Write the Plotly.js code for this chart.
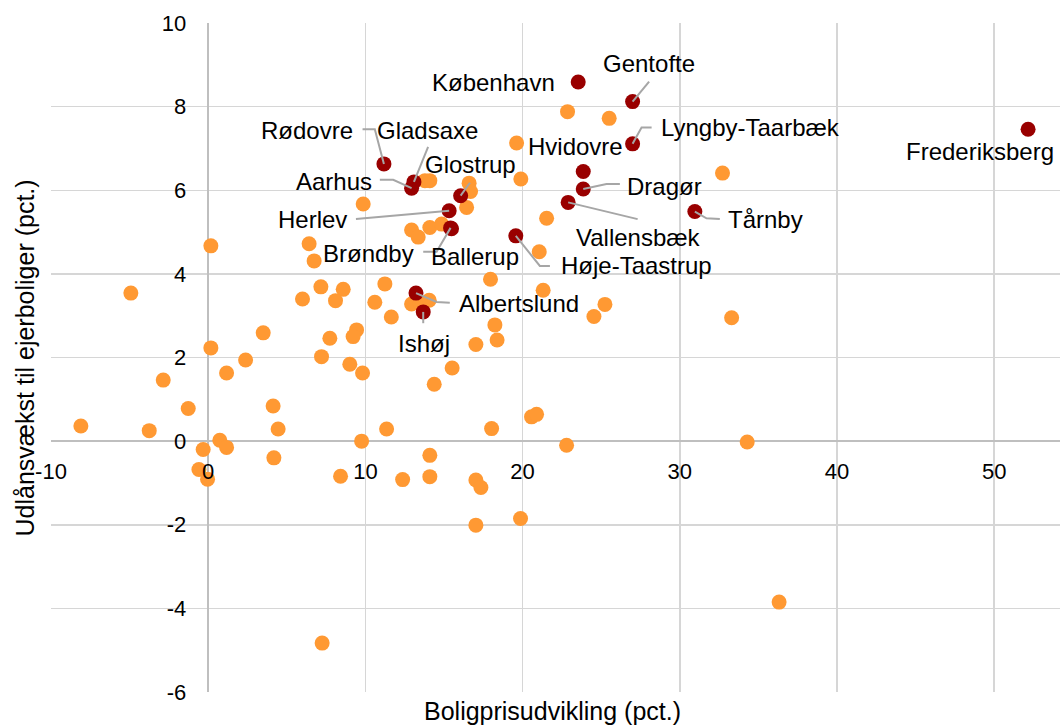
<!DOCTYPE html>
<html>
<head>
<meta charset="utf-8">
<script src="https://cdn.plot.ly/plotly-3.0.1.min.js"></script>
<style>
  html, body { margin: 0; padding: 0; background: #ffffff; }
  #chart { width: 1060px; height: 728px; }
</style>
</head>
<body>
<div id="chart"></div>
<script>
// Named municipalities (highlighted in dark red)
const municipalities = [
  'København', 'Gentofte', 'Lyngby-Taarbæk', 'Hvidovre', 'Dragør', 'Vallensbæk',
  'Tårnby', 'Frederiksberg', 'Rødovre', 'Gladsaxe', 'Aarhus', 'Glostrup',
  'Herlev', 'Ballerup', 'Brøndby', 'Høje-Taastrup', 'Albertslund', 'Ishøj'
];
const priceGrowth = [
  23.54, 27.00, 27.00, 23.86, 23.86, 22.90,
  30.96, 52.16, 11.18, 13.09, 12.94, 16.06,
  15.33, 15.48, 15.42, 19.57, 13.22, 13.68
];
const lendingGrowth = [
  8.59, 8.12, 7.11, 6.45, 6.03, 5.71,
  5.49, 7.46, 6.63, 6.20, 6.05, 5.87,
  5.51, 5.08, 5.10, 4.91, 3.54, 3.09
];

// Remaining municipalities (orange)
const otherPriceGrowth = [
  0.17, 6.42, 6.74, -4.92, 7.17, 8.59, 6.00, 8.10, 3.50, 9.44,
  9.22, 0.17, 2.38, 7.74, 7.21, 9.01, 1.17, -2.86, -1.27, 4.13,
  -8.10, -3.75, 4.45, 0.74, 1.17, -0.32, 4.18, 8.42, -0.59, -0.04,
  7.25, 10.60, 11.24, 11.65, 9.82, 11.35, 9.76, 13.79, 14.10, 16.60,
  16.69, 16.44, 12.94, 13.36, 14.10, 14.85, 9.86, 17.96, 12.94, 13.47,
  14.06, 21.31, 18.24, 18.38, 17.03, 15.52, 14.38, 18.03, 20.57, 20.89,
  22.80, 14.10, 12.37, 14.10, 17.03, 17.35, 17.03, 19.87, 21.06, 25.24,
  24.54, 22.86, 25.51, 19.62, 19.89, 21.53, 32.72, 33.30, 34.29, 36.32
];
const otherLendingGrowth = [
  4.67, 4.72, 4.31, 3.54, 3.69, 3.63, 3.40, 3.36, 2.59, 2.66,
  2.50, 2.23, 1.94, 2.46, 2.02, 1.84, 1.63, 1.46, 0.78, 0.84,
  0.36, 0.25, 0.29, 0.02, -0.15, -0.20, -0.40, -0.84, -0.68, -0.91,
  -4.83, 3.32, 3.76, 2.97, 1.63, 0.29, 0.00, 6.23, 6.23, 6.17,
  5.97, 5.59, 5.05, 4.88, 5.11, 5.19, 5.67, 3.87, 3.28, 3.31,
  3.37, 3.61, 2.78, 2.42, 2.31, 1.75, 1.36, 0.30, 0.58, 0.64,
  -0.10, -0.34, -0.92, -0.85, -0.93, -1.11, -2.01, -1.85, 4.53, 3.27,
  2.98, 7.88, 7.72, 7.13, 6.27, 5.33, 6.41, 2.95, -0.02, -3.85
];

const xTickValues = [-10, 0, 10, 20, 30, 40, 50];
const xTickLabels = ['-10', '0', '10', '20', '30', '40', '50'];
const yTickValues = [-6, -4, -2, 0, 2, 4, 6, 8, 10];
const yTickLabels = ['-6', '-4', '-2', '0', '2', '4', '6', '8', '10'];

const xTitle = 'Boligprisudvikling (pct.)';
const yTitle = 'Udlånsvækst til ejerboliger (pct.)';

// Label placement (axis units) and bent leader lines for each named point
const labelPlacement = {
  'København':      { at: [18.17, 8.57] },
  'Gentofte':       { at: [28.03, 9.02], via: [[28.05, 8.60]] },
  'Lyngby-Taarbæk': { at: [34.52, 7.49], via: [[27.57, 7.50], [28.21, 7.50]] },
  'Hvidovre':       { at: [23.39, 7.04] },
  'Dragør':         { at: [29.06, 6.10], via: [[25.34, 6.15], [26.19, 6.15]] },
  'Vallensbæk':     { at: [27.37, 4.86], via: [[27.32, 5.31]] },
  'Tårnby':         { at: [35.47, 5.30], via: [[31.70, 5.33], [32.55, 5.31]] },
  'Frederiksberg':  { at: [49.07, 6.92] },
  'Rødovre':        { at: [6.31, 7.44], via: [[10.60, 7.46], [9.82, 7.46]] },
  'Gladsaxe':       { at: [13.96, 7.44], via: [[13.99, 7.04]] },
  'Aarhus':         { at: [7.98, 6.21], via: [[11.77, 6.25], [10.92, 6.25]] },
  'Glostrup':       { at: [16.70, 6.61], via: [[16.65, 6.18]] },
  'Herlev':         { at: [6.66, 5.31], via: [[9.40, 5.31]] },
  'Ballerup':       { at: [16.97, 4.41] },
  'Brøndby':        { at: [10.20, 4.49], via: [[14.53, 4.53], [13.68, 4.53]] },
  'Høje-Taastrup':  { at: [27.24, 4.19], via: [[21.10, 4.19], [21.74, 4.19]] },
  'Albertslund':    { at: [19.75, 3.30], via: [[14.53, 3.33], [15.37, 3.31]] },
  'Ishøj':          { at: [13.73, 2.34], via: [[13.68, 2.82]] }
};

const FONT = '"Liberation Sans", Arial, sans-serif';
const ORANGE = '#ff9933';
const DARK_RED = '#990000';
const LEADER = '#a6a6a6';

const xRange = [-10, 54.19];
const yRange = [-6, 10];

const traces = [
  {
    type: 'scatter', mode: 'markers',
    x: otherPriceGrowth, y: otherLendingGrowth,
    marker: { color: ORANGE, size: 15, line: { width: 0 } },
    hoverinfo: 'x+y', showlegend: false
  },
  {
    type: 'scatter', mode: 'markers',
    x: priceGrowth, y: lendingGrowth, text: municipalities,
    marker: { color: DARK_RED, size: 15, line: { width: 0 } },
    hoverinfo: 'text+x+y', showlegend: false
  }
];

const annotations = [];
const shapes = [];
municipalities.forEach((name, i) => {
  const p = labelPlacement[name];
  annotations.push({
    text: name, x: p.at[0], y: p.at[1], xref: 'x', yref: 'y',
    xanchor: 'center', yanchor: 'middle', showarrow: false,
    font: { family: FONT, size: 24, color: '#000000' }
  });
  if (p.via) {
    const pts = [[priceGrowth[i], lendingGrowth[i]]].concat(p.via);
    const path = pts.map((q, k) => (k === 0 ? 'M ' : 'L ') + q[0] + ',' + q[1]).join(' ');
    shapes.push({
      type: 'path', path: path, xref: 'x', yref: 'y', layer: 'above',
      line: { color: LEADER, width: 2 }
    });
  }
});

// Axis titles sit along the plot edges, while the axes themselves cross at zero
annotations.push({
  text: xTitle, xref: 'paper', yref: 'paper', x: 0.4975, y: -0.028,
  xanchor: 'center', yanchor: 'middle', showarrow: false,
  font: { family: FONT, size: 25, color: '#000000' }
});
annotations.push({
  text: yTitle, xref: 'paper', yref: 'paper', x: -0.0258, y: 0.5,
  xanchor: 'center', yanchor: 'middle', showarrow: false, textangle: -90,
  font: { family: FONT, size: 25, color: '#000000' }
});

const layout = {
  width: 1060, height: 728,
  margin: { l: 51, r: 0, t: 23, b: 36, pad: 0 },
  paper_bgcolor: '#ffffff', plot_bgcolor: '#ffffff',
  font: { family: FONT, size: 22, color: '#000000' },
  showlegend: false,
  xaxis: {
    range: xRange, autorange: false,
    anchor: 'free', position: (0 - yRange[0]) / (yRange[1] - yRange[0]),
    tickmode: 'array', tickvals: xTickValues, ticktext: xTickLabels,
    ticks: '', ticklabelstandoff: 15,
    tickfont: { family: FONT, size: 22, color: '#000000' },
    showgrid: true, gridcolor: '#d6d6d6', gridwidth: 1.5,
    zeroline: true, zerolinecolor: '#bfbfbf', zerolinewidth: 1.5,
    showline: false
  },
  yaxis: {
    range: yRange, autorange: false,
    anchor: 'free', position: (0 - xRange[0]) / (xRange[1] - xRange[0]),
    tickmode: 'array', tickvals: yTickValues, ticktext: yTickLabels,
    ticks: '', ticklabelstandoff: 22,
    tickfont: { family: FONT, size: 22, color: '#000000' },
    showgrid: true, gridcolor: '#d6d6d6', gridwidth: 1.5,
    zeroline: true, zerolinecolor: '#bfbfbf', zerolinewidth: 1.5,
    showline: false
  },
  annotations: annotations,
  shapes: shapes
};

Plotly.newPlot('chart', traces, layout, { displayModeBar: false, staticPlot: true });
</script>
</body>
</html>
